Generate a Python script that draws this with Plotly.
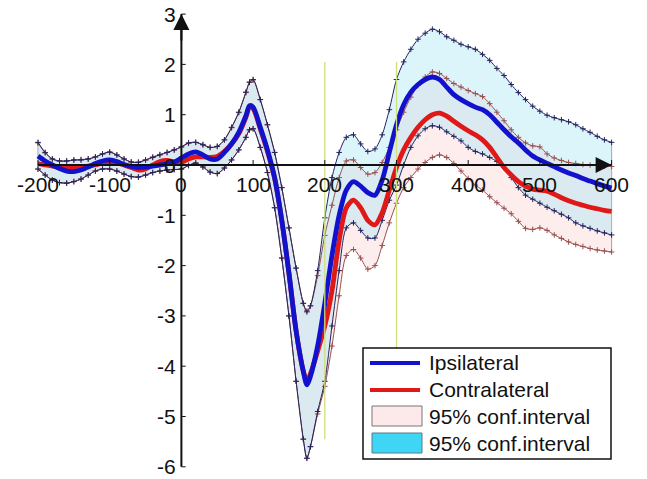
import plotly.graph_objects as go

# ---------------- data ----------------
time_ms = [-200, -190, -180, -170, -160, -150, -140, -130, -120, -110,
           -100, -90, -80, -70, -60, -50, -40, -30, -20, -10,
           0, 10, 20, 30, 40, 50, 60, 70, 80, 90,
           95, 100, 110, 120, 130, 140, 150, 160, 170, 175,
           180, 190, 200, 210, 220, 230, 240, 250, 260, 270,
           280, 290, 300, 310, 320, 330, 340, 350, 360, 370,
           380, 390, 400, 410, 420, 430, 440, 450, 460, 470,
           480, 490, 500, 510, 520, 530, 540, 550, 560, 570,
           580, 590, 600]

ipsi_mean = [0.18, 0.08, 0.0, -0.07, -0.12, -0.13, -0.10, -0.04, 0.03, 0.08,
             0.10, 0.07, 0.01, -0.03, -0.05, -0.04, -0.02, 0.0, 0.02, 0.06,
             0.14, 0.22, 0.26, 0.20, 0.12, 0.12, 0.25, 0.42, 0.65, 0.98,
             1.18, 1.15, 0.75, 0.30, -0.25, -1.10, -2.15, -3.30, -4.10, -4.37,
             -4.20, -3.60, -2.75, -1.80, -1.00, -0.50, -0.33, -0.42, -0.55, -0.60,
             -0.30, 0.25, 0.80, 1.20, 1.45, 1.60, 1.70, 1.75, 1.70, 1.55,
             1.40, 1.30, 1.22, 1.15, 1.10, 1.00, 0.85, 0.70, 0.56, 0.44,
             0.30, 0.18, 0.10, 0.03, -0.03, -0.10, -0.16, -0.21, -0.27, -0.32,
             -0.37, -0.42, -0.46]

contra_mean = [0.03, 0.0, -0.02, -0.04, -0.05, -0.05, -0.04, -0.02, 0.0, 0.04,
               0.06, 0.04, 0.0, -0.05, -0.10, -0.08, 0.0, 0.07, 0.09, 0.06,
               0.05, 0.12, 0.16, 0.16, 0.15, 0.17, 0.27, 0.42, 0.62, 0.95,
               1.15, 1.12, 0.72, 0.27, -0.27, -1.10, -2.15, -3.30, -4.10, -4.30,
               -4.15, -3.70, -3.20, -2.50, -1.50, -0.85, -0.70, -0.85, -1.10, -1.19,
               -0.95, -0.50, -0.05, 0.30, 0.55, 0.75, 0.90, 1.00, 1.03, 0.97,
               0.87, 0.77, 0.68, 0.60, 0.50, 0.35, 0.15, -0.05, -0.20, -0.33,
               -0.42, -0.48, -0.50, -0.52, -0.58, -0.65, -0.71, -0.76, -0.80, -0.84,
               -0.87, -0.90, -0.92]

ipsi_upper = [0.45, 0.25, 0.12, 0.08, 0.08, 0.10, 0.10, 0.12, 0.16, 0.22,
              0.26, 0.20, 0.12, 0.06, 0.05, 0.10, 0.15, 0.20, 0.25, 0.30,
              0.36, 0.44, 0.45, 0.40, 0.35, 0.37, 0.50, 0.75, 1.05, 1.45,
              1.65, 1.70, 1.30, 0.80, 0.25, -0.45, -1.25, -2.05, -2.75, -2.92,
              -2.80, -2.10, -1.05, -0.25, 0.25, 0.55, 0.60, 0.42, 0.27, 0.32,
              0.60, 1.10, 1.70, 2.05, 2.30, 2.50, 2.62, 2.70, 2.65, 2.55,
              2.48, 2.40, 2.35, 2.30, 2.20, 2.08, 1.92, 1.78, 1.60, 1.44,
              1.30, 1.17, 1.07, 0.99, 0.94, 0.90, 0.86, 0.80, 0.72, 0.65,
              0.57, 0.50, 0.45]

ipsi_lower = [-0.08, -0.20, -0.30, -0.35, -0.36, -0.33, -0.28, -0.20, -0.12, -0.08,
              -0.08, -0.12, -0.18, -0.23, -0.24, -0.20, -0.15, -0.12, -0.10, -0.09,
              -0.08, -0.01, 0.04, -0.04, -0.14, -0.17, -0.06, 0.10, 0.30, 0.55,
              0.70, 0.72, 0.35, -0.15, -0.85, -1.85, -3.00, -4.30, -5.45, -5.83,
              -5.60, -4.90, -4.30, -3.20, -2.10, -1.25, -1.15, -1.30, -1.45, -1.45,
              -1.10, -0.70, -0.40, 0.00, 0.35, 0.58, 0.72, 0.78, 0.75, 0.66,
              0.57, 0.48, 0.35, 0.27, 0.22, 0.15, 0.07, -0.05, -0.25, -0.45,
              -0.60, -0.68, -0.76, -0.84, -0.91, -0.98, -1.05, -1.15, -1.21, -1.26,
              -1.31, -1.35, -1.39]

contra_upper = [0.44, 0.24, 0.12, 0.08, 0.08, 0.10, 0.11, 0.12, 0.16, 0.22,
                0.25, 0.20, 0.12, 0.06, 0.06, 0.10, 0.16, 0.21, 0.25, 0.30,
                0.36, 0.43, 0.45, 0.41, 0.35, 0.37, 0.50, 0.74, 1.04, 1.44,
                1.64, 1.69, 1.30, 0.80, 0.25, -0.45, -1.25, -2.05, -2.75, -2.90,
                -2.80, -2.20, -1.40, -0.80, -0.25, 0.08, 0.10, -0.05, -0.18, -0.15,
                0.05, 0.35, 0.70, 1.05, 1.35, 1.58, 1.75, 1.85, 1.82, 1.72,
                1.62, 1.55, 1.48, 1.42, 1.36, 1.22, 1.05, 0.88, 0.70, 0.55,
                0.44, 0.38, 0.36, 0.22, 0.14, 0.09, 0.05, 0.03, 0.01, 0.0,
                -0.01, -0.02, -0.03]

contra_lower = [-0.08, -0.20, -0.30, -0.35, -0.36, -0.33, -0.28, -0.20, -0.12, -0.08,
                -0.08, -0.12, -0.18, -0.23, -0.24, -0.20, -0.15, -0.12, -0.10, -0.09,
                -0.08, -0.01, 0.04, -0.04, -0.14, -0.17, -0.06, 0.10, 0.30, 0.55,
                0.70, 0.72, 0.35, -0.15, -0.85, -1.85, -3.00, -4.30, -5.45, -5.83,
                -5.60, -4.95, -4.40, -3.60, -2.60, -1.80, -1.68, -1.85, -2.07, -2.00,
                -1.60, -1.15, -0.76, -0.45, -0.25, -0.08, 0.05, 0.15, 0.20, 0.15,
                0.03, -0.12, -0.27, -0.40, -0.50, -0.63, -0.75, -0.86, -0.97, -1.12,
                -1.26, -1.28, -1.25, -1.30, -1.39, -1.46, -1.53, -1.58, -1.62, -1.66,
                -1.69, -1.71, -1.73]

x_ticks = [-200, -100, 0, 100, 200, 300, 400, 500, 600]
y_ticks = [3, 2, 1, 0, -1, -2, -3, -4, -5, -6]
marker_lines_ms = [200, 300]
legend_labels = ["Ipsilateral", "Contralateral", "95% conf.interval", "95% conf.interval"]

# ---------------- styles ----------------
W, H = 647, 479
BLUE = "#1212cc"
RED = "#e01818"
NAVY = "#23235e"
BROWN = "#9a4f4f"
PINK_FILL = "rgba(248,200,200,0.32)"
CYAN_FILL = "rgba(160,228,245,0.38)"
FONT = "Arial, Liberation Sans, sans-serif"
SPL = dict(shape="spline", smoothing=0.8)

fig = go.Figure()

# confidence bands
fig.add_trace(go.Scatter(x=time_ms, y=contra_lower, mode="lines",
                         line=dict(width=0, **SPL), showlegend=False, hoverinfo="skip"))
fig.add_trace(go.Scatter(x=time_ms, y=contra_upper, mode="lines", fill="tonexty",
                         fillcolor=PINK_FILL, line=dict(width=0, **SPL),
                         showlegend=False, hoverinfo="skip"))
fig.add_trace(go.Scatter(x=time_ms, y=ipsi_lower, mode="lines",
                         line=dict(width=0, **SPL), showlegend=False, hoverinfo="skip"))
fig.add_trace(go.Scatter(x=time_ms, y=ipsi_upper, mode="lines", fill="tonexty",
                         fillcolor=CYAN_FILL, line=dict(width=0, **SPL),
                         showlegend=False, hoverinfo="skip"))

# band boundary lines with + markers
for ys, col in [(contra_upper, BROWN), (contra_lower, BROWN),
                (ipsi_upper, NAVY), (ipsi_lower, NAVY)]:
    fig.add_trace(go.Scatter(x=time_ms, y=ys, mode="lines+markers",
                             line=dict(color=col, width=1, **SPL),
                             marker=dict(symbol="cross-thin", size=4,
                                         line=dict(color=col, width=1)),
                             showlegend=False, hoverinfo="skip"))

# means
fig.add_trace(go.Scatter(x=time_ms, y=contra_mean, mode="lines",
                         line=dict(color=RED, width=4.8, **SPL), showlegend=False))
fig.add_trace(go.Scatter(x=time_ms, y=ipsi_mean, mode="lines",
                         line=dict(color=BLUE, width=4.8, **SPL), showlegend=False))

shapes = []
# edge lines of the bands
for xi in (0, -1):
    shapes.append(dict(type="line", xref="x", yref="y", x0=time_ms[xi], x1=time_ms[xi],
                       y0=min(contra_lower[xi], ipsi_lower[xi]),
                       y1=max(contra_upper[xi], ipsi_upper[xi]),
                       line=dict(color="#9a9a9a", width=1), layer="below"))
# vertical marker lines
for t in marker_lines_ms:
    shapes.append(dict(type="line", xref="x", yref="y", x0=t, x1=t, y0=-5.45, y1=2.05,
                       line=dict(color="#cfe07a", width=1.3), layer="above"))
# axes
shapes.append(dict(type="line", xref="x", yref="y", x0=x_ticks[0], x1=x_ticks[-1], y0=0, y1=0,
                   line=dict(color="#111111", width=2), layer="above"))
shapes.append(dict(type="line", xref="x", yref="y", x0=0, x1=0, y0=y_ticks[-1], y1=y_ticks[0],
                   line=dict(color="#111111", width=2), layer="above"))
for t in x_ticks:
    shapes.append(dict(type="line", xref="x", yref="y", x0=t, x1=t, y0=0, y1=0.1,
                       line=dict(color="#111111", width=1), layer="above"))
for v in y_ticks:
    shapes.append(dict(type="line", xref="x", yref="y", x0=0, x1=6, y0=v, y1=v,
                       line=dict(color="#111111", width=1), layer="above"))

annotations = []
for t in x_ticks:
    annotations.append(dict(x=t, y=0, xref="x", yref="y", text=str(t), showarrow=False,
                            yshift=-19, xanchor="center", yanchor="middle",
                            font=dict(family=FONT, size=21, color="#111111")))
for v in y_ticks:
    annotations.append(dict(x=0, y=v, xref="x", yref="y", text=str(v), showarrow=False,
                            xshift=-3, xanchor="right", yanchor="middle",
                            font=dict(family=FONT, size=21, color="#111111")))
# arrow heads
annotations.append(dict(x=x_ticks[-1], y=0, xref="x", yref="y", ax=-28, ay=0, text="",
                        showarrow=True, arrowhead=2, arrowsize=1.6, arrowwidth=2,
                        arrowcolor="#111111"))
annotations.append(dict(x=0, y=y_ticks[0], xref="x", yref="y", ax=0, ay=28, text="",
                        showarrow=True, arrowhead=2, arrowsize=1.6, arrowwidth=2,
                        arrowcolor="#111111"))

# legend (drawn in pixel-based paper coordinates)
def px(x):
    return x / W

def py(y):
    return 1 - y / H

shapes.append(dict(type="rect", xref="paper", yref="paper", x0=px(363), x1=px(611),
                   y0=py(459), y1=py(348), fillcolor="white",
                   line=dict(color="#111111", width=1.5), layer="above"))
shapes.append(dict(type="line", xref="paper", yref="paper", x0=px(370), x1=px(420),
                   y0=py(363), y1=py(363), line=dict(color=BLUE, width=4), layer="above"))
shapes.append(dict(type="line", xref="paper", yref="paper", x0=px(370), x1=px(420),
                   y0=py(390), y1=py(390), line=dict(color=RED, width=4), layer="above"))
shapes.append(dict(type="rect", xref="paper", yref="paper", x0=px(372), x1=px(422),
                   y0=py(426), y1=py(406), fillcolor="#fde9e9",
                   line=dict(color="#777777", width=1), layer="above"))
shapes.append(dict(type="rect", xref="paper", yref="paper", x0=px(372), x1=px(422),
                   y0=py(453), y1=py(433), fillcolor="#3ed6f4",
                   line=dict(color="#5a7a88", width=1), layer="above"))
for lab, yc in zip(legend_labels, [362, 389, 416, 443]):
    annotations.append(dict(x=px(427), y=py(yc), xref="paper", yref="paper", text=lab,
                            showarrow=False, xanchor="left", yanchor="middle",
                            font=dict(family=FONT, size=21, color="#111111")))

x0_ms = -200 - 38 / 0.717
x1_ms = -200 + (W - 38) / 0.717
fig.update_layout(
    width=W, height=H,
    margin=dict(l=0, r=0, t=0, b=0),
    paper_bgcolor="white", plot_bgcolor="white",
    xaxis=dict(range=[x0_ms, x1_ms], visible=False, fixedrange=True),
    yaxis=dict(range=[(165 - H) / 50.3, 165 / 50.3], visible=False, fixedrange=True),
    shapes=shapes, annotations=annotations, showlegend=False,
)

fig.write_html("out.html", config={"displayModeBar": False},
               post_script="document.body.style.margin='0';"
                           "document.body.style.overflow='hidden';")
